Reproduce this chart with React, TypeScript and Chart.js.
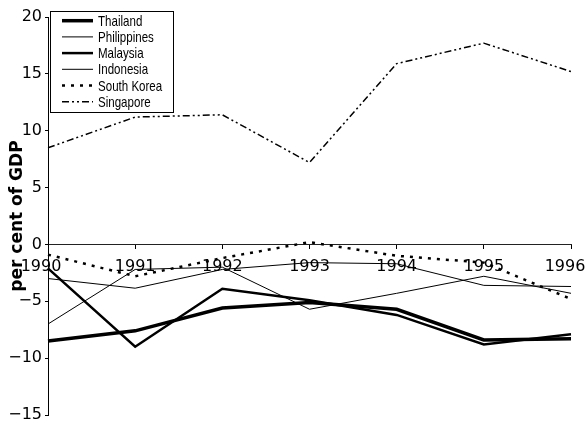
import React, { useEffect, useRef } from 'react';
import { Chart, registerables } from 'chart.js';

Chart.register(...registerables);

const years = ['1990', '1991', '1992', '1993', '1994', '1995', '1996'];
const thailand = [-8.5, -7.6, -5.6, -5.1, -5.7, -8.4, -8.3];
const philippines = [-7.0, -2.2, -2.0, -5.7, -4.3, -2.8, -4.3];
const malaysia = [-2.1, -9.0, -3.9, -4.9, -6.2, -8.8, -7.9];
const indonesia = [-3.0, -3.85, -2.2, -1.6, -1.7, -3.6, -3.7];
const southKorea = [-0.9, -2.8, -1.2, 0.2, -1.0, -1.6, -4.8];
const singapore = [8.5, 11.2, 11.4, 7.2, 15.9, 17.7, 15.2];

const yMin = -15;
const yMax = 20;
const yStep = 5;
const yTitle = 'per cent of GDP';

const boxLegend = {
  id: 'boxLegend',
  afterDraw(chart: any) {
    const ctx = chart.ctx;
    ctx.save();
    const x0 = 50, y0 = 11, w = 123, h = 101;
    ctx.fillStyle = '#fff';
    ctx.fillRect(x0, y0, w, h);
    ctx.strokeStyle = '#000';
    ctx.lineWidth = 1;
    ctx.setLineDash([]);
    ctx.strokeRect(x0 + 0.5, y0 + 0.5, w, h);
    chart.data.datasets.forEach((ds: any, i: number) => {
      const y = 20.7 + i * 16.2;
      ctx.beginPath();
      ctx.setLineDash(ds.borderDash || []);
      ctx.lineWidth = ds.borderWidth;
      ctx.strokeStyle = ds.borderColor;
      ctx.lineCap = 'butt';
      ctx.moveTo(62, y);
      ctx.lineTo(93, y);
      ctx.stroke();
      ctx.setLineDash([]);
      ctx.save();
      ctx.translate(98, y + 1);
      ctx.scale(0.77, 1);
      ctx.font = '15px "Liberation Sans", Arial, sans-serif';
      ctx.fillStyle = '#000';
      ctx.textBaseline = 'middle';
      ctx.textAlign = 'left';
      ctx.fillText(ds.label, 0, 0);
      ctx.restore();
    });
    ctx.restore();
  },
};

// nudges the outermost year labels inward as in the reference
const edgeShift = [-7, 0, 0, 0, 0, 0, -6];
const edgeLabels = {
  id: 'edgeLabels',
  afterLayout(chart: any) {
    const scale = chart.scales.x;
    if (!scale) return;
    const orig = scale._computeLabelItems;
    if (!orig || scale._wrappedLabels) return;
    scale._wrappedLabels = true;
    scale._computeLabelItems = function (area: any) {
      const items = orig.call(this, area);
      items.forEach((it: any, i: number) => {
        it.options.translation[0] += edgeShift[i] || 0;
      });
      return items;
    };
    scale._labelItems = null;
  },
};

export default function App() {
  const ref = useRef<HTMLCanvasElement | null>(null);

  useEffect(() => {
    if (!ref.current) return;
    const mk = (label: string, data: number[], width: number, dash: number[] = []) => ({
      label,
      data,
      borderColor: '#000',
      backgroundColor: '#000',
      borderWidth: width,
      borderDash: dash,
      pointRadius: 0,
      tension: 0,
      fill: false,
      borderJoinStyle: 'miter' as const,
    });
    const chart = new Chart(ref.current, {
      type: 'line',
      data: {
        labels: years,
        datasets: [
          mk('Thailand', thailand, 3.5),
          mk('Philippines', philippines, 1),
          mk('Malaysia', malaysia, 2.5),
          mk('Indonesia', indonesia, 1),
          mk('South Korea', southKorea, 2.5, [3, 6]),
          mk('Singapore', singapore, 1.5, [7, 3, 2, 3, 2, 3]),
        ],
      },
      options: {
        responsive: false,
        animation: false,
        layout: { padding: { top: 17, right: 16, bottom: 8, left: 0 } },
        plugins: {
          legend: { display: false },
          tooltip: { enabled: false },
        },
        scales: {
          x: {
            type: 'category',
            position: { y: 0 } as any,
            offset: false,
            grid: { drawOnChartArea: false, drawTicks: true, tickLength: 4, color: '#000' },
            border: { display: true, color: '#222', width: 1 },
            ticks: {
              autoSkip: false,
              maxRotation: 0,
              minRotation: 0,
              padding: 9,
              color: '#000',
              font: { family: '"DejaVu Sans", sans-serif', size: 16 },
            },
            afterFit(scale: any) {
              scale.paddingLeft = 0;
              scale.paddingRight = 0;
            },
          },
          y: {
            type: 'linear',
            min: yMin,
            max: yMax,
            grid: { drawOnChartArea: false, drawTicks: true, tickLength: 3, color: '#000' },
            border: { display: true, color: '#000', width: 1 },
            ticks: {
              stepSize: yStep,
              padding: 3,
              color: '#000',
              font: { family: '"DejaVu Sans", sans-serif', size: 16 },
              callback: (v: any) => (Number(v) < 0 ? '\u2212' + Math.abs(Number(v)) : String(v)),
            },
            title: {
              display: true,
              text: yTitle,
              color: '#000',
              font: { family: '"DejaVu Sans", sans-serif', size: 17, weight: 'bold' },
              padding: { top: 7, bottom: 0 },
            },
            afterFit(scale: any) {
              scale.width = 48;
              scale.paddingTop = 0;
              scale.paddingBottom = 0;
            },
          },
        },
      },
      plugins: [edgeLabels, boxLegend],
    });
    return () => chart.destroy();
  }, []);

  return (
    <div style={{ width: 587, height: 423, background: '#fff' }}>
      <style>{`body{margin:0;background:#fff}`}</style>
      <canvas ref={ref} width={587} height={423} style={{ display: 'block' }} />
    </div>
  );
}
